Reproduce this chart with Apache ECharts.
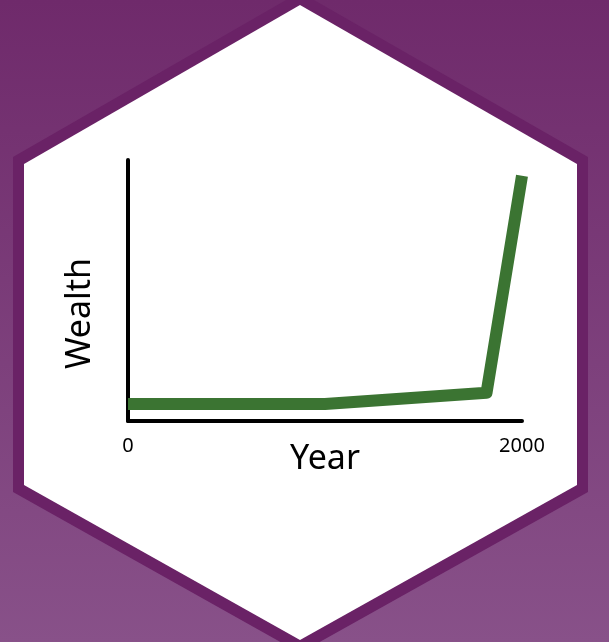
<!DOCTYPE html>
<html>
<head>
<meta charset="utf-8">
<script src="https://cdn.jsdelivr.net/npm/echarts@6/dist/echarts.min.js"></script>
<style>
  html, body { margin: 0; padding: 0; }
  #chart { width: 609px; height: 642px; }
</style>
</head>
<body>
<div id="chart"></div>
<script>
// data
var years = [0, 1000, 1820, 2000];
var wealth = [6.5, 6.5, 10.8, 94];
var xTickLabels = ["0", "2000"];

var chart = echarts.init(document.getElementById("chart"));

var options = {
  backgroundColor: new echarts.graphic.LinearGradient(0, 0, 0, 1, [
    { offset: 0, color: "#6f2a6b" },
    { offset: 1, color: "#885189" },
  ]),
  animation: false,
  textStyle: {
    fontFamily: "Noto Sans",
  },
  graphic: [
    {
      // hexagon border
      type: "polygon",
      z: -10,
      shape: {
        points: [[300, -8], [588, 157], [588, 492], [300, 653], [13, 492], [13, 157]],
      },
      style: { fill: "#6a2266" },
    },
    {
      // hexagon face
      type: "polygon",
      z: -9,
      shape: {
        points: [[300, 5], [577, 164], [577, 485], [300, 640], [24, 485], [24, 164]],
      },
      style: { fill: "#ffffff" },
    },
  ],
  grid: {
    left: 128,
    right: 87,
    top: 160,
    bottom: 221,
    containLabel: false,
  },
  xAxis: {
    type: "value",
    min: 0,
    max: 2000,
    interval: 2000,
    name: "Year",
    nameLocation: "middle",
    nameGap: 21,
    nameMoveOverlap: false,
    nameTextStyle: {
      color: "#000",
      fontSize: 34,
    },
    axisLine: {
      lineStyle: { color: "#000", width: 4 },
    },
    axisTick: { show: false },
    splitLine: { show: false },
    axisLabel: {
      color: "#000",
      fontSize: 20,
      margin: 15,
      formatter: function (v) {
        return v === 0 ? xTickLabels[0] : xTickLabels[1];
      },
    },
  },
  yAxis: {
    type: "value",
    min: 0,
    max: 100,
    name: "Wealth",
    nameLocation: "middle",
    nameGap: 31,
    nameRotate: 90,
    nameTextStyle: {
      color: "#000",
      fontSize: 34,
      padding: [0, 46, 0, 0],
    },
    axisLine: {
      show: true,
      lineStyle: { color: "#000", width: 4 },
    },
    axisTick: { show: false },
    axisLabel: { show: false },
    splitLine: { show: false },
  },
  series: [
    {
      type: "line",
      data: years.map(function (y, i) { return [y, wealth[i]]; }),
      showSymbol: false,
      clip: false,
      lineStyle: {
        color: "#3b7432",
        width: 12,
        cap: "butt",
        join: "round",
      },
    },
  ],
};

chart.setOption(options);
</script>
</body>
</html>
